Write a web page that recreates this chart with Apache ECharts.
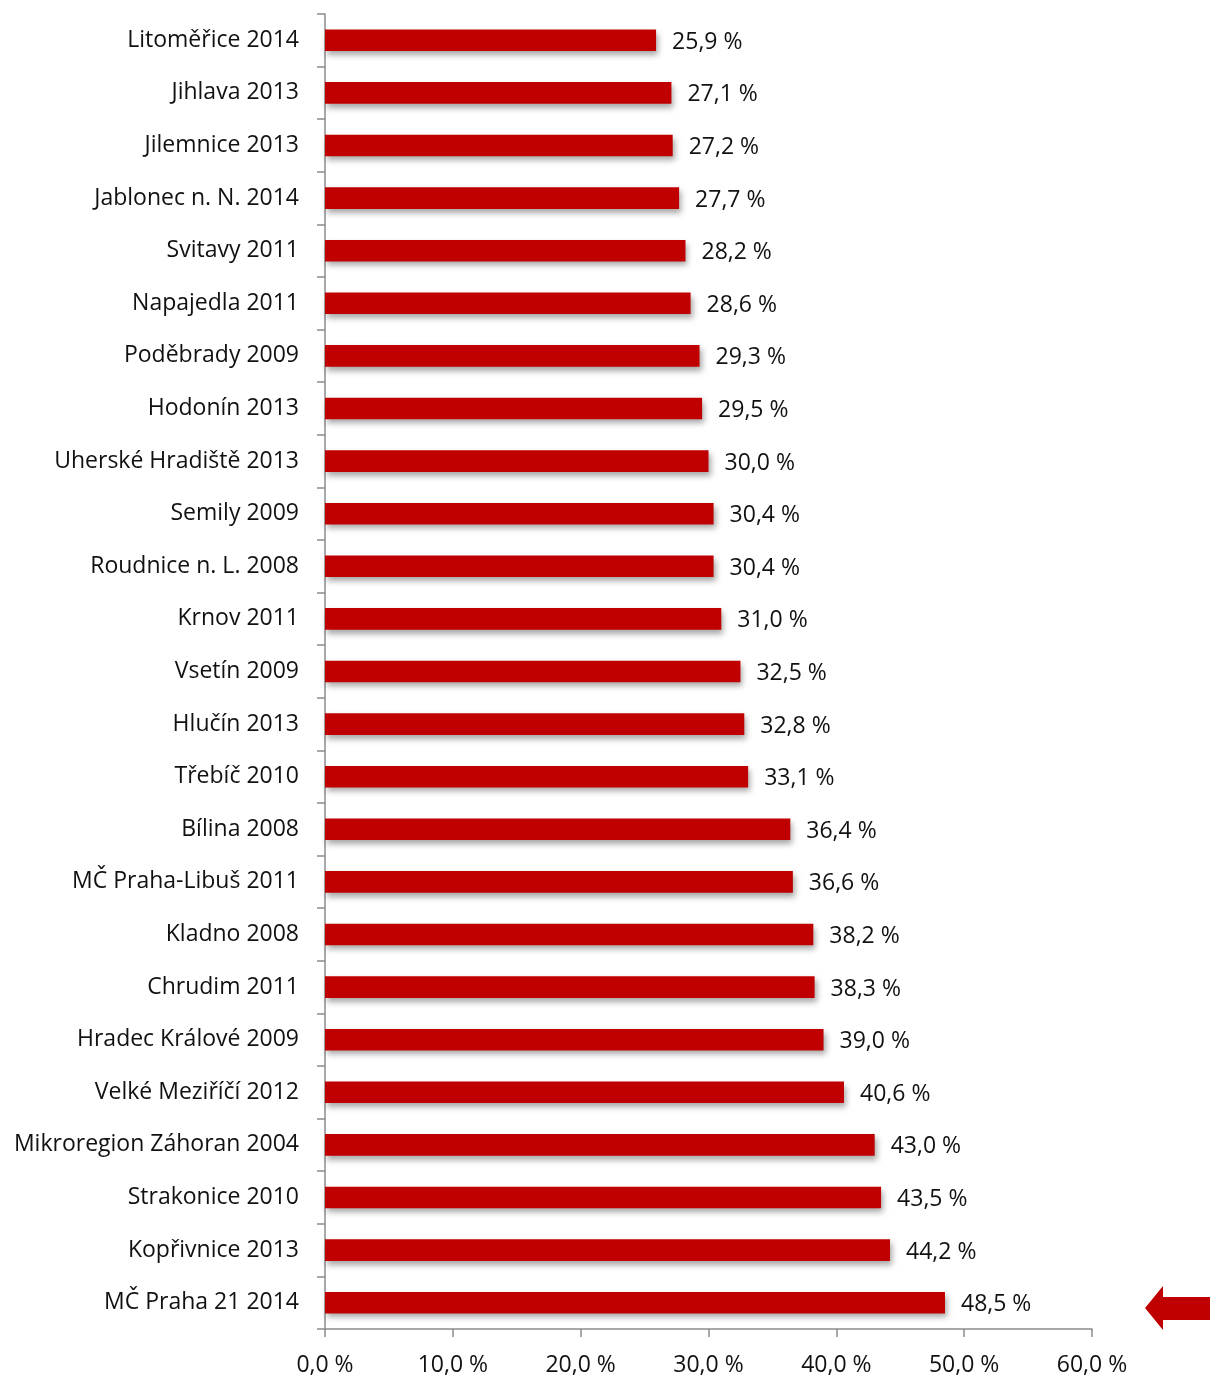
<!DOCTYPE html>
<html>
<head>
<meta charset="utf-8">
<script src="https://cdn.jsdelivr.net/npm/echarts@6/dist/echarts.min.js"></script>
<style>
  html, body { margin: 0; padding: 0; background: #fff; }
  #chart { width: 1210px; height: 1377px; }
</style>
</head>
<body>
<div id="chart"></div>
<script>
// Places and survey years, top to bottom
const categories = [
  'Litoměřice 2014', 'Jihlava 2013', 'Jilemnice 2013', 'Jablonec n. N. 2014',
  'Svitavy 2011', 'Napajedla 2011', 'Poděbrady 2009', 'Hodonín 2013',
  'Uherské Hradiště 2013', 'Semily 2009', 'Roudnice n. L. 2008', 'Krnov 2011',
  'Vsetín 2009', 'Hlučín 2013', 'Třebíč 2010', 'Bílina 2008',
  'MČ Praha-Libuš 2011', 'Kladno 2008', 'Chrudim 2011', 'Hradec Králové 2009',
  'Velké Meziříčí 2012', 'Mikroregion Záhoran 2004', 'Strakonice 2010',
  'Kopřivnice 2013', 'MČ Praha 21 2014'
];

// Share in percent
const values = [
  25.9, 27.1, 27.2, 27.7, 28.2, 28.6, 29.3, 29.5, 30.0, 30.4, 30.4, 31.0,
  32.5, 32.8, 33.1, 36.4, 36.6, 38.2, 38.3, 39.0, 40.6, 43.0, 43.5, 44.2, 48.5
];

// X axis range
const xMin = 0, xMax = 60, xStep = 10;

const FONT = '"Open Sans", "Noto Sans", sans-serif';
const fmt = v => v.toFixed(1).replace('.', ',') + ' %';

const chart = echarts.init(document.getElementById('chart'));
chart.setOption({
  animation: false,
  grid: { left: 325, right: 118, top: 14, bottom: 46, containLabel: false },
  xAxis: {
    type: 'value',
    min: xMin, max: xMax, interval: xStep,
    axisLine: { show: true, lineStyle: { color: '#8c8c8c', width: 1.5 } },
    axisTick: { show: true, length: 8, lineStyle: { color: '#8c8c8c', width: 1.5 } },
    splitLine: { show: false },
    axisLabel: {
      formatter: v => fmt(v), margin: 25,
      fontFamily: FONT, fontSize: 23, color: '#111'
    }
  },
  yAxis: {
    type: 'category',
    data: categories,
    inverse: true,
    axisLine: { show: true, lineStyle: { color: '#8c8c8c', width: 1.5 } },
    axisTick: { show: true, length: 8, lineStyle: { color: '#8c8c8c', width: 1.5 } },
    axisLabel: {
      margin: 26, fontFamily: FONT, fontSize: 23, color: '#111'
    }
  },
  series: [{
    type: 'bar',
    data: values,
    barWidth: '41%',
    itemStyle: {
      color: '#c00000',
      shadowColor: 'rgba(0,0,0,0.35)',
      shadowBlur: 6,
      shadowOffsetX: 2,
      shadowOffsetY: 4
    },
    label: {
      show: true, position: 'right', distance: 16, offset: [0, 2],
      formatter: p => fmt(p.value),
      fontFamily: FONT, fontSize: 23, color: '#111'
    }
  }],
  graphic: [{
    type: 'polygon',
    shape: {
      points: [[1145, 1308], [1163, 1286], [1163, 1297], [1210, 1297],
               [1210, 1320], [1163, 1320], [1163, 1330]]
    },
    style: { fill: '#c00000' }
  }]
});
</script>
</body>
</html>
